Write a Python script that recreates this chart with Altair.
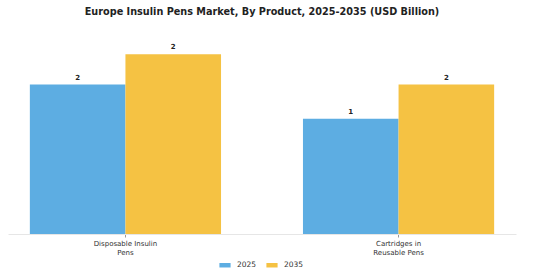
import altair as alt
import pandas as pd

products = ["Disposable Insulin Pens", "Cartridges in Reusable Pens"]
years = ["2025", "2035"]
values_2025 = [1.83, 1.41]
values_2035 = [2.2, 1.83]
colors = ["#5DADE2", "#F5C243"]

rows = []
for i, p in enumerate(products):
    rows.append({"product": p, "year": years[0], "value": values_2025[i]})
    rows.append({"product": p, "year": years[1], "value": values_2035[i]})
df = pd.DataFrame(rows)

label_expr = ("datum.label == 'Disposable Insulin Pens' ? ['Disposable Insulin', 'Pens'] : "
              "datum.label == 'Cartridges in Reusable Pens' ? ['Cartridges in', 'Reusable Pens'] : datum.label")

x = alt.X("product:N", sort=products, title=None,
          scale=alt.Scale(paddingInner=0.3, paddingOuter=0.08),
          axis=alt.Axis(labelAngle=0, labelExpr=label_expr, labelFontSize=7, labelColor="#333",
                        labelFont="DejaVu Sans", labelLineHeight=9, labelPadding=2,
                        domainColor="#e6e6e6", tickColor="#999", tickSize=3, labelLimit=200))
y = alt.Y("value:Q", axis=None, scale=alt.Scale(domain=[0, 2.4], nice=False, zero=True))

base = alt.Chart(df).encode(x=x, xOffset=alt.XOffset("year:N", sort=years, scale=alt.Scale(paddingInner=0, paddingOuter=0)), y=y)

bars = base.mark_bar().encode(
    color=alt.Color("year:N", sort=years, title=None,
                    scale=alt.Scale(domain=years, range=colors),
                    legend=alt.Legend(orient="none", legendX=211, legendY=221, direction="horizontal",
                                      symbolType="M-1,-0.4H1V0.4H-1Z", symbolSize=125,
                                      symbolStrokeWidth=0, labelFontSize=7.5, labelColor="#333",
                                      labelFont="DejaVu Sans", columnPadding=9, labelOffset=6))
)

text = base.mark_text(baseline="bottom", dy=-4, fontSize=7, fontWeight="bold",
                      font="DejaVu Sans", color="#222").encode(
    text=alt.Text("value:Q", format=".0f")
)

chart = (bars + text).properties(
    width=508, height=196,
    title=alt.TitleParams("Europe Insulin Pens Market, By Product, 2025-2035 (USD Billion)",
                          fontSize=9.7, font="DejaVu Sans", fontWeight="bold", color="#222",
                          anchor="middle", offset=21),
    autosize=alt.AutoSizeParams(type="none"),
    padding={"left": 8, "top": 38, "right": 44, "bottom": 46},
).configure(background="white").configure_view(stroke=None, strokeWidth=0)

chart.save("out.html", embed_options={"renderer": "svg", "actions": False})
